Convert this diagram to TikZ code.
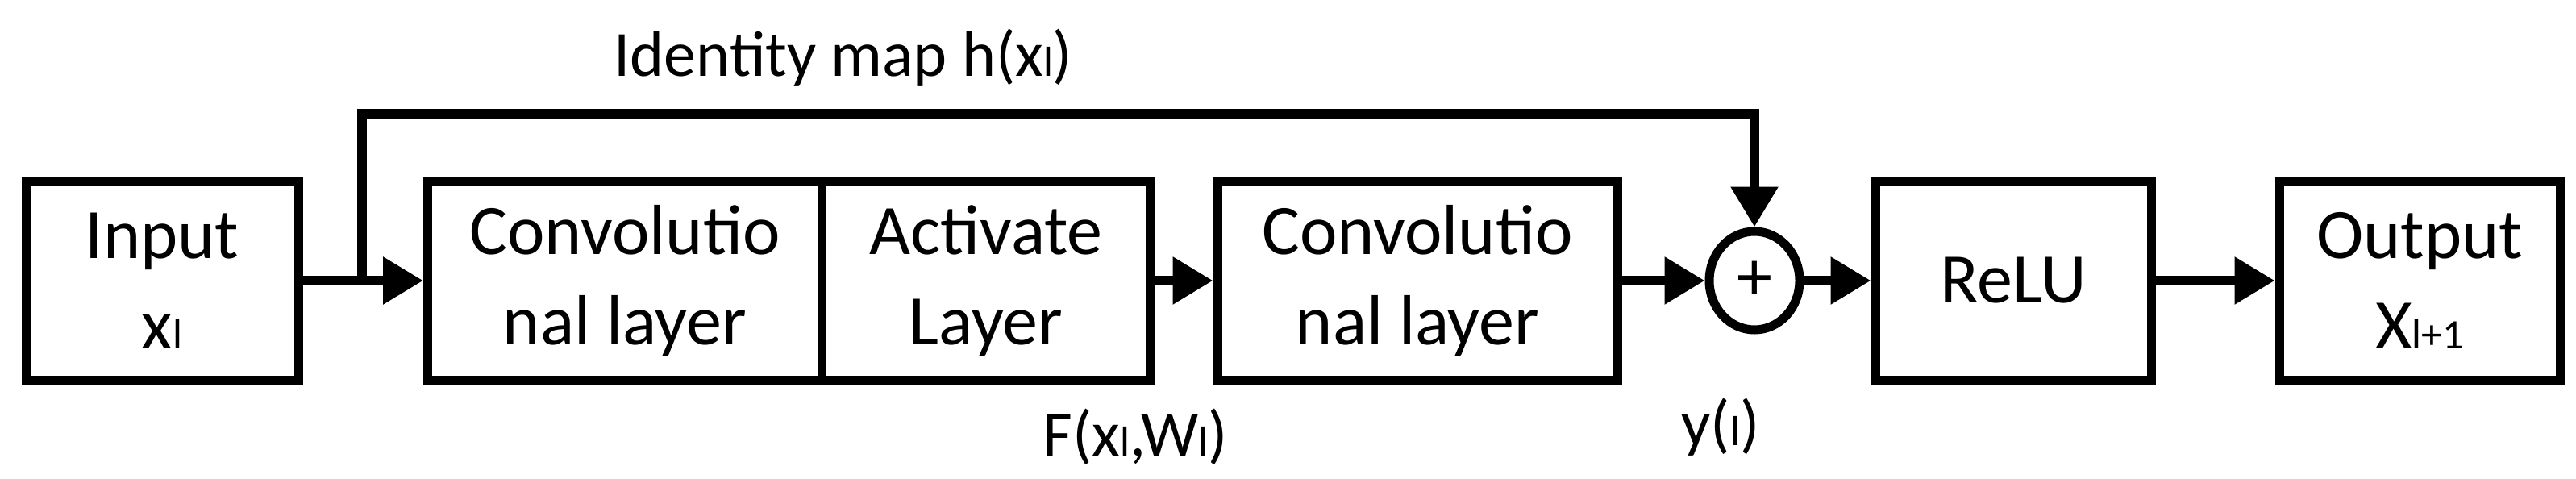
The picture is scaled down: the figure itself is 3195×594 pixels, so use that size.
\documentclass[tikz,border=0pt]{standalone}
\usepackage{fontspec}
\setmainfont{Carlito}
\usetikzlibrary{arrows.meta,shapes.geometric}
\newcommand{\subl}[1]{{\fontsize{52}{60}\selectfont #1}}
\begin{document}
\begin{tikzpicture}[x=1pt,y=-1pt,
  blk/.style={draw,line width=11pt,minimum height=246pt,inner sep=0pt,align=center,font=\fontsize{88}{112}\selectfont},
  conn/.style={line width=12pt,-{Triangle[length=50pt,width=56pt]}},
  lbl/.style={font=\fontsize{80}{96}\selectfont,inner sep=0pt}]
\useasboundingbox (0,0) rectangle (3195,594);
\node[blk,minimum width=338pt] (in) at (201,348) {Input\\x\subl{l}};
\node[blk,minimum width=489pt] (c1) at (775,348) {Convolutio\\nal layer};
\node[blk,minimum width=407pt] (act) at (1223,348) {Activate\\Layer};
\node[blk,minimum width=496pt] (c2) at (1758,348) {Convolutio\\nal layer};
\node[draw,line width=11pt,ellipse,minimum width=112pt,minimum height=122pt,inner sep=0pt,font=\fontsize{88}{100}\selectfont] (sum) at (2176,348) {+};
\node[blk,minimum width=342pt] (relu) at (2497,348) {ReLU};
\node[blk,minimum width=348pt] (out) at (3001,348) {Output\\X\subl{l+1}};
\draw[conn] (in) -- (c1);
\draw[conn] (act) -- (c2);
\draw[conn] (c2) -- (sum);
\draw[conn] (sum) -- (relu);
\draw[conn] (relu) -- (out);
\coordinate (br) at (449,348);
\draw[conn,line join=miter] (br) -- (449,141) -- (2176,141) -- (sum.north);
\node[lbl] (idl) at (1046,72) {Identity map h(x\subl{l})};
\node[lbl] (fl) at (1408,542) {F(x\subl{l},W\subl{l})};
\node[lbl] (yl) at (2134,530) {y(\subl{l})};
\end{tikzpicture}
\end{document}
